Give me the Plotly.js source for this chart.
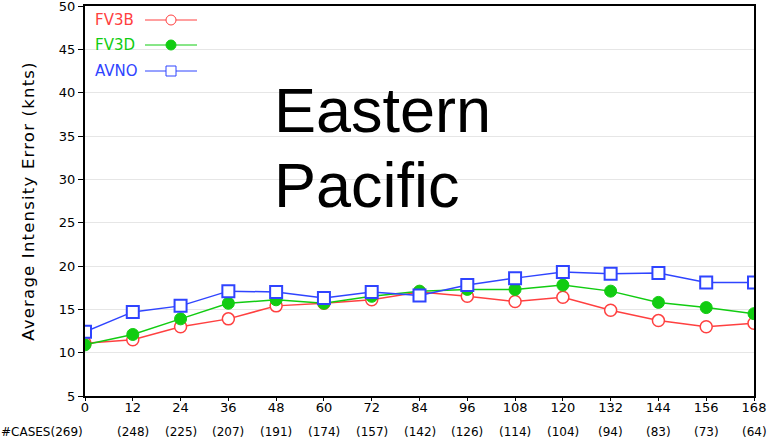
<!DOCTYPE html>
<html>
<head>
<meta charset="utf-8">
<script src="https://cdn.plot.ly/plotly-3.0.1.min.js"></script>
<style>html,body{margin:0;padding:0;background:#fff;}#chart{width:780px;height:442px;} .ytitle{letter-spacing:1.2px;}</style>
</head>
<body>
<div id="chart"></div>
<script>
const forecastHours = [0, 12, 24, 36, 48, 60, 72, 84, 96, 108, 120, 132, 144, 156, 168];
const caseCounts = [269, 248, 225, 207, 191, 174, 157, 142, 126, 114, 104, 94, 83, 73, 64];
const fv3b = [11.1, 11.5, 13.0, 13.9, 15.4, 15.7, 16.1, 17.0, 16.5, 15.9, 16.4, 14.9, 13.7, 13.0, 13.4];
const fv3d = [10.9, 12.1, 13.9, 15.7, 16.1, 15.7, 16.5, 17.1, 17.3, 17.3, 17.8, 17.1, 15.8, 15.2, 14.5];
const avno = [12.4, 14.7, 15.4, 17.1, 17.0, 16.3, 17.0, 16.6, 17.8, 18.6, 19.3, 19.1, 19.2, 18.1, 18.1];
const yTicks = [5, 10, 15, 20, 25, 30, 35, 40, 45, 50];
const seriesNames = ['FV3B', 'FV3D', 'AVNO'];
const seriesColors = ['#ff4040', '#11cc11', '#2f44ff'];

const L = 85, R = 26, T = 6, B = 46, W = 780, H = 442;
const pw = W - L - R, ph = H - T - B;
const px = v => (v - L) / pw;
const py = v => (H - B - v) / ph;

const traces = [
  {x: forecastHours, y: fv3b, name: seriesNames[0], mode: 'lines+markers',
   line: {color: seriesColors[0], width: 1.5},
   marker: {symbol: 'circle', size: 12, color: '#ffffff', line: {color: seriesColors[0], width: 1.5}}},
  {x: forecastHours, y: fv3d, name: seriesNames[1], mode: 'lines+markers',
   line: {color: seriesColors[1], width: 1.5},
   marker: {symbol: 'circle', size: 12, color: seriesColors[1], line: {color: seriesColors[1], width: 1}}},
  {x: forecastHours, y: avno, name: seriesNames[2], mode: 'lines+markers',
   line: {color: seriesColors[2], width: 1.5},
   marker: {symbol: 'square', size: 12, color: '#ffffff', line: {color: seriesColors[2], width: 2}}}
];

const annotations = [];
caseCounts.forEach((c, i) => {
  annotations.push({
    x: forecastHours[i], xref: 'x', y: py(432), yref: 'paper',
    text: (i === 0 ? '#CASES' : '') + '(' + c + ')',
    showarrow: false, xanchor: i === 0 ? 'right' : 'center', yanchor: 'middle',
    font: {family: 'DejaVu Sans', size: 12, color: '#000'}
  });
});
annotations.push({x: px(272), xref: 'paper', y: py(133), yref: 'paper', text: 'Eastern',
  showarrow: false, xanchor: 'left', yanchor: 'bottom', yshift: -14,
  font: {family: 'Liberation Sans', size: 63, color: '#000'}});
annotations.push({x: px(272), xref: 'paper', y: py(208), yref: 'paper', text: 'Pacific',
  showarrow: false, xanchor: 'left', yanchor: 'bottom', yshift: -14,
  font: {family: 'Liberation Sans', size: 63, color: '#000'}});

const shapes = [];
const legY = [20, 45, 71];
seriesNames.forEach((n, i) => {
  annotations.push({x: px(93), xref: 'paper', y: py(legY[i]), yref: 'paper', text: n,
    showarrow: false, xanchor: 'left', yanchor: 'middle',
    font: {family: 'DejaVu Sans', size: 15, color: seriesColors[i]}});
  shapes.push({type: 'line', xref: 'paper', yref: 'paper', x0: px(145), x1: px(197),
    y0: py(legY[i]), y1: py(legY[i]), line: {color: seriesColors[i], width: 1}});
  const m = {xref: 'paper', yref: 'paper', xsizemode: 'pixel', ysizemode: 'pixel',
    xanchor: px(171), yanchor: py(legY[i]), x0: -5, x1: 5, y0: -5, y1: 5};
  if (i === 0) shapes.push(Object.assign({type: 'circle', fillcolor: '#fff', line: {color: seriesColors[i], width: 1}}, m));
  if (i === 1) shapes.push(Object.assign({type: 'circle', fillcolor: seriesColors[i], line: {color: seriesColors[i], width: 1}}, m));
  if (i === 2) shapes.push(Object.assign({type: 'rect', fillcolor: '#fff', line: {color: seriesColors[i], width: 1}}, m));
});

const layout = {
  width: W, height: H,
  margin: {l: L, r: R, t: T, b: B, pad: 0},
  paper_bgcolor: '#fff', plot_bgcolor: '#fff',
  showlegend: false,
  font: {family: 'DejaVu Sans', size: 12, color: '#000'},
  xaxis: {range: [0, 168], tickmode: 'array', tickvals: forecastHours, ticktext: forecastHours.map(String),
    showline: true, linecolor: '#000', linewidth: 2, mirror: true, showgrid: false, zeroline: false,
    ticks: 'outside', ticklen: 3, tickcolor: '#000', tickfont: {family: 'DejaVu Sans', size: 13},
    ticklabeloverflow: 'allow', ticklabelstandoff: -5},
  yaxis: {range: [5, 50], tickmode: 'array', tickvals: yTicks, ticktext: yTicks.map(String),
    showline: true, linecolor: '#000', linewidth: 2, mirror: true, showgrid: true, gridcolor: '#e6e6e6', gridwidth: 1,
    zeroline: false, ticks: 'outside', ticklen: 5, tickcolor: '#000', tickfont: {family: 'DejaVu Sans', size: 13},
    ticklabeloverflow: 'allow',
    title: {text: 'Average Intensity Error (knts)', font: {family: 'DejaVu Sans', size: 16.5}, standoff: 20}},
  annotations: annotations,
  shapes: shapes
};

Plotly.newPlot('chart', traces, layout, {displayModeBar: false, staticPlot: true});
</script>
</body>
</html>
